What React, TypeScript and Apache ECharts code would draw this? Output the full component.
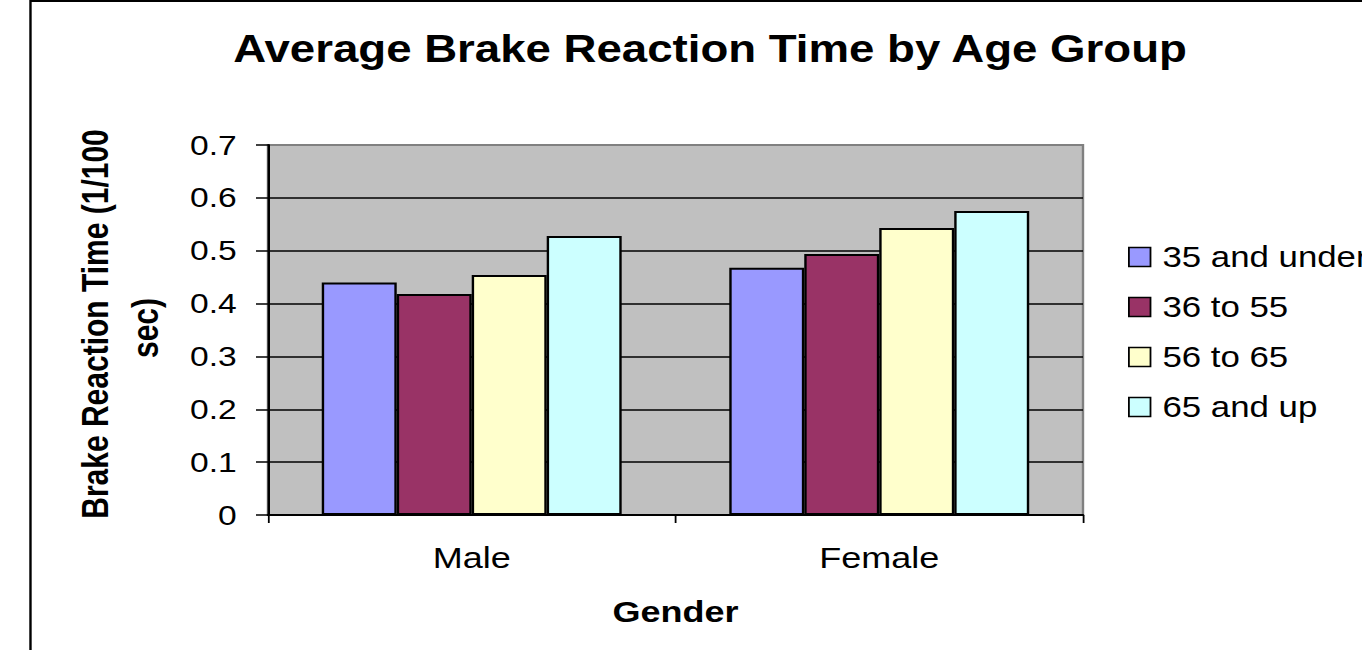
import React, { useEffect, useRef } from "react";
import * as echarts from "echarts";

const categories = ["Male", "Female"];
const seriesNames = ["35 and under", "36 to 55", "56 to 65", "65 and up"];
const under35 = [0.44, 0.468];
const from36to55 = [0.418, 0.494];
const from56to65 = [0.454, 0.543];
const over65 = [0.528, 0.575];
const colors = ["#9999FF", "#993366", "#FFFFCC", "#CCFFFF"];
const yTicks = { min: 0, max: 0.7, interval: 0.1 };

const FONT = "'Liberation Sans', Arial, sans-serif";
const STRETCH = 1.2;
const W = 1362 / STRETCH;

export default function App() {
  const ref = useRef<HTMLDivElement>(null);
  useEffect(() => {
    if (!ref.current) return;
    const chart = echarts.init(ref.current, null, { renderer: "svg" });
    const values = [under35, from36to55, from56to65, over65];
    chart.setOption({
      animation: false,
      backgroundColor: "#ffffff",
      textStyle: { fontFamily: FONT, color: "#000" },
      grid: {
        left: 223.3,
        right: W - 902.5,
        top: 145,
        bottom: 135,
        show: true,
        backgroundColor: "#C0C0C0",
        borderColor: "#808080",
        borderWidth: 2,
      },
      legend: {
        orient: "vertical",
        left: 935,
        top: 237.5,
        itemWidth: 18,
        itemHeight: 19,
        itemGap: 21,
        icon: "rect",
        data: seriesNames,
        textStyle: { fontFamily: FONT, fontSize: 29, color: "#000", padding: [0, 0, 0, 5] },
        itemStyle: { borderColor: "#000", borderWidth: 1.5 },
      },
      xAxis: {
        type: "category",
        data: categories,
        name: "Gender",
        nameLocation: "middle",
        nameGap: 82,
        nameTextStyle: { fontFamily: FONT, fontSize: 30, fontWeight: "bold", color: "#000" },
        axisLine: { lineStyle: { color: "#000", width: 2 } },
        axisTick: { show: true, alignWithLabel: false, length: 8, lineStyle: { color: "#000", width: 1.5 } },
        axisLabel: { fontFamily: FONT, fontSize: 30, color: "#000", margin: 28 },
        splitLine: { show: false },
      },
      yAxis: {
        type: "value",
        min: yTicks.min,
        max: yTicks.max,
        interval: yTicks.interval,
        axisLine: { show: true, lineStyle: { color: "#000", width: 2 } },
        axisTick: { show: true, inside: false, length: 10, lineStyle: { color: "#000", width: 1.5 } },
        axisLabel: {
          fontFamily: FONT,
          fontSize: 28,
          color: "#000",
          margin: 26,
          formatter: (v: number) => (Math.round(v * 10) / 10).toString(),
        },
        splitLine: { show: true, showMinLine: false, showMaxLine: false, lineStyle: { color: "#000", width: 1.5 } },
      },
      series: seriesNames.map((name, i) => ({
        name,
        type: "bar",
        data: values[i],
        barGap: "0%",
        barCategoryGap: "26.4%",
        itemStyle: { color: colors[i], borderColor: "#000", borderWidth: 2 },
      })),
      graphic: [
        {
          type: "rect",
          shape: { x: 25.4, y: 1, width: 3000, height: 3000 },
          style: { fill: "none", stroke: "#000", lineWidth: 2 },
          silent: true,
          z: 100,
        },
        {
          type: "text",
          x: 591.7,
          y: 49,
          style: {
            text: "Average Brake Reaction Time by Age Group",
            fontFamily: FONT,
            fontSize: 38,
            fontWeight: "bold",
            fill: "#000",
            align: "center",
            verticalAlign: "middle",
          },
        },
        {
          type: "text",
          x: 80,
          y: 324,
          rotation: Math.PI / 2,
          style: {
            text: "Brake Reaction Time (1/100",
            fontFamily: FONT,
            fontSize: 30,
            fontWeight: "bold",
            fill: "#000",
            align: "center",
            verticalAlign: "middle",
          },
        },
        {
          type: "text",
          x: 121,
          y: 328,
          rotation: Math.PI / 2,
          style: {
            text: "sec)",
            fontFamily: FONT,
            fontSize: 30,
            fontWeight: "bold",
            fill: "#000",
            align: "center",
            verticalAlign: "middle",
          },
        },
      ],
    });
    return () => chart.dispose();
  }, []);

  return (
    <div
      style={{
        position: "absolute",
        left: 0,
        top: 0,
        width: 1362,
        height: 650,
        overflow: "hidden",
        background: "#fff",
      }}
    >
      <div
        ref={ref}
        style={{
          width: W,
          height: 650,
          transform: `scaleX(${STRETCH})`,
          transformOrigin: "0 0",
        }}
      />
    </div>
  );
}
